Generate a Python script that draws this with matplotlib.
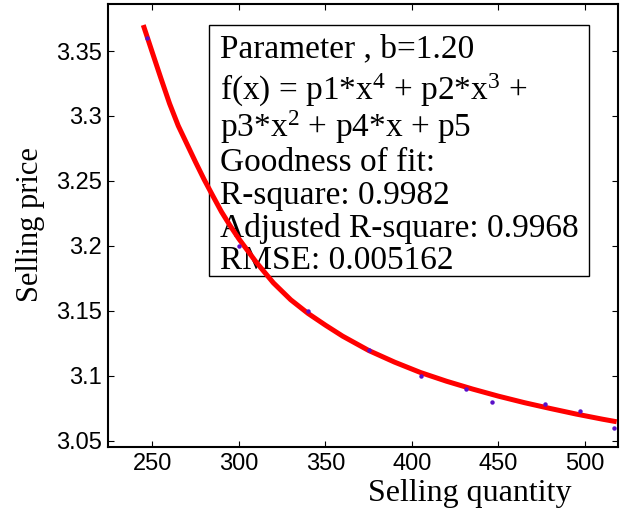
import numpy as np
import matplotlib
matplotlib.use("Agg")
import matplotlib.pyplot as plt
from matplotlib.patches import Rectangle

plt.rcParams['mathtext.fontset'] = 'custom'
plt.rcParams['mathtext.rm'] = 'Liberation Serif'
plt.rcParams['mathtext.it'] = 'Liberation Serif:italic'

# observed points
quantity = [247, 300, 340, 375, 405, 431, 446, 477, 497, 517]
price = [3.36, 3.20, 3.15, 3.12, 3.10, 3.09, 3.08, 3.078, 3.073, 3.06]

# fitted curve
fit_x = [244.8, 250, 255, 260, 265, 270, 275, 280, 285, 290, 295, 300,
         310, 320, 330, 340, 350, 360, 375, 390, 405, 420, 435, 450,
         465, 480, 495, 510, 518.3]
fit_y = [3.370, 3.349, 3.329, 3.3095, 3.2925, 3.2785, 3.2645, 3.2510,
         3.2385, 3.2262, 3.2155, 3.2055, 3.1875, 3.1715, 3.1585, 3.148,
         3.139, 3.1305, 3.1195, 3.1105, 3.1025, 3.0958, 3.0898, 3.0843,
         3.0793, 3.0748, 3.0705, 3.0666, 3.0646]

x_ticks = [250, 300, 350, 400, 450, 500]
y_ticks = [3.05, 3.1, 3.15, 3.2, 3.25, 3.3, 3.35]
y_ticklabels = ['3.05', '3.1', '3.15', '3.2', '3.25', '3.3', '3.35']

box_lines = [
    'Parameter , b=1.20',
    'f(x) = p1*x$^{4}$ + p2*x$^{3}$ +',
    'p3*x$^{2}$ + p4*x + p5',
    'Goodness of fit:',
    'R-square: 0.9982',
    'Adjusted R-square: 0.9968',
    'RMSE: 0.005162',
]

W, H = 623, 508
fig = plt.figure(figsize=(W / 100, H / 100), dpi=100)
ax = fig.add_axes([108.3 / W, 1 - 446.7 / H, (617.7 - 108.3) / W, (446.7 - 4) / H])

ax.plot(fit_x, fit_y, color='#ff0000', lw=3.6, solid_capstyle='butt', zorder=3)
ax.plot(quantity, price, 'o', color='#5a0fc8', ms=3.2, mec='none', zorder=4)

ax.set_xlim(224.6, 518.9)
ax.set_ylim(3.0454, 3.3862)
ax.set_xticks(x_ticks)
ax.set_yticks(y_ticks)
ax.set_yticklabels(y_ticklabels)
ax.tick_params(direction='in', length=4, width=0.8, top=True, right=True,
               labelsize=17, labelfontfamily='Liberation Sans')
ax.tick_params(axis='x', pad=4.5)
ax.tick_params(axis='y', pad=4.5)
for s in ax.spines.values():
    s.set_linewidth(1.5)

def fx(px):
    return px / W

def fy(py):
    return 1 - py / H

fig.text(fx(469.5), fy(501), 'Selling quantity', family='Liberation Serif',
         fontsize=23, ha='center', va='baseline')
fig.text(fx(31), fy(225), 'Selling price', family='Liberation Serif',
         fontsize=22, ha='center', va='center', rotation=90)

# text box sits under the curve
ax.add_patch(Rectangle((fx(209.3), fy(276)), (589 - 209.3) / W, (276 - 25) / H,
                       transform=fig.transFigure, fill=True, fc='white',
                       ec='black', lw=1.0, zorder=1, clip_on=False))
baselines = [57.3, 99.3, 136.7, 170.7, 204, 237.3, 269.3]
for txt, b in zip(box_lines, baselines):
    ax.text(fx(220), fy(b), txt, transform=fig.transFigure,
            family='Liberation Serif', fontsize=24,
            ha='left', va='baseline', zorder=2)

fig.savefig('out.png', dpi=100)
